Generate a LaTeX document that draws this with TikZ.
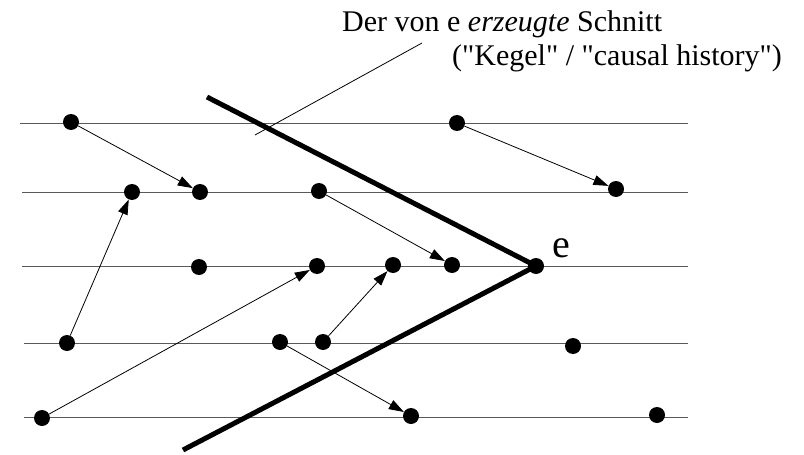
\documentclass[tikz,border=0pt]{standalone}
\usepackage{fontspec}
\setmainfont{Liberation Serif}
\usetikzlibrary{arrows.meta}
\begin{document}
\begin{tikzpicture}[x=1pt,y=-1pt,
  ev/.style={circle,fill=black,inner sep=0pt,minimum size=16pt},
  tl/.style={draw=black!65,line width=1pt},
  msg/.style={line width=0.8pt,-{Triangle[length=15pt,width=10pt]}},
  cut/.style={line width=5pt,line join=round},
  lbl/.style={font=\fontsize{30}{34}\selectfont,inner sep=0pt}]
\useasboundingbox (0,0) rectangle (804,455);
% time lines
\foreach \n/\xs/\y in {1/20/123,2/22/192,3/22/266,4/24/343,5/24/417}{
  \coordinate (ls\n) at (\xs,\y);
  \coordinate (le\n) at (688,\y);
  \draw[tl] (ls\n) -- (le\n);
}
% cut
\coordinate (cA) at (207,97);
\coordinate (cB) at (183,450);
\coordinate (ec) at (536,266);
\draw[cut] (cA) -- (ec) -- (cB);
% annotation
\coordinate (p) at (255,135);
\coordinate (q) at (422,43);
\draw[line width=0.8pt] (p) -- (q);
\node[lbl,anchor=base west] (t1) at (342,31) {Der von e \emph{erzeugte} Schnitt};
\node[lbl,anchor=base west] (t2) at (452,65) {(\textquotedbl Kegel\textquotedbl{} / \textquotedbl causal history\textquotedbl)};
% events
\node[ev] (a1) at (71,122) {};
\node[ev] (a2) at (457,123) {};
\node[ev] (b1) at (132,192) {};
\node[ev] (b2) at (200,192) {};
\node[ev] (b3) at (319,191) {};
\node[ev] (b4) at (616,189) {};
\node[ev] (c1) at (199,267) {};
\node[ev] (c2) at (317,266) {};
\node[ev] (c3) at (393,265) {};
\node[ev] (c4) at (452,265) {};
\node[ev] (e) at (536,266) {};
\node[ev] (d1) at (67,343) {};
\node[ev] (d2) at (280,342) {};
\node[ev] (d3) at (323,342) {};
\node[ev] (d4) at (573,346) {};
\node[ev] (f1) at (42,418) {};
\node[ev] (f2) at (411,416) {};
\node[ev] (f3) at (657,415) {};
\node[font=\fontsize{40}{40}\selectfont,inner sep=0pt,anchor=base] (el) at (561,257) {e};
% messages
\draw[msg] (a1) -- (b2);
\draw[msg] (a2) -- (b4);
\draw[msg] (d1) -- (b1);
\draw[msg] (b3) -- (c4);
\draw[msg] (f1) -- (c2);
\draw[msg] (d3) -- (c3);
\draw[msg] (d2) -- (f2);
\end{tikzpicture}
\end{document}
